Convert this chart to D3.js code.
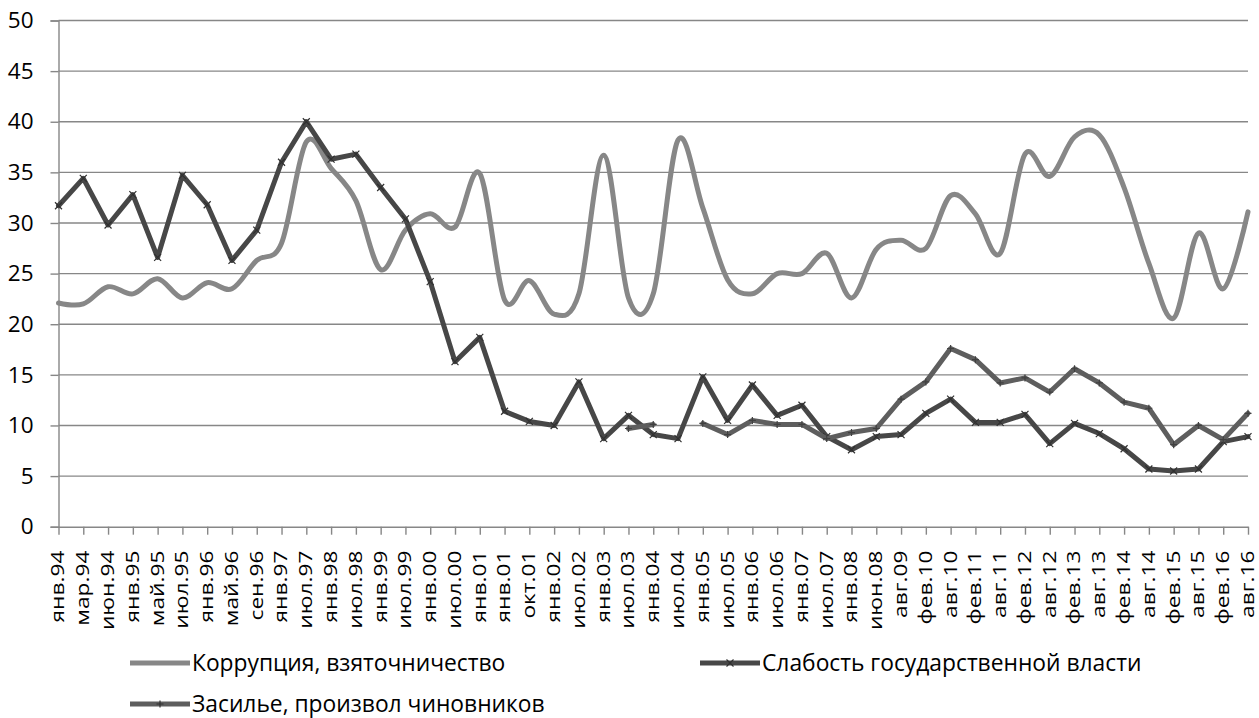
<!DOCTYPE html>
<html><head><meta charset="utf-8">
<script src="https://cdn.jsdelivr.net/npm/d3@7"></script>
<style>body{margin:0;background:#fff} svg{display:block}</style>
</head><body>
<script>
const categories = ["янв.94","мар.94","июн.94","янв.95","май.95","июл.95","янв.96","май.96","сен.96","янв.97","июл.97","янв.98","июл.98","янв.99","июл.99","янв.00","июл.00","янв.01","янв.01","окт.01","янв.02","июл.02","янв.03","июл.03","янв.04","июл.04","янв.05","июл.05","янв.06","июл.06","янв.07","июл.07","янв.08","июн.08","авг.09","фев.10","авг.10","фев.11","авг.11","фев.12","авг.12","фев.13","авг.13","фев.14","авг.14","фев.15","авг.15","фев.16","авг.16"];
const corruption = [22.1,22.0,23.7,23.0,24.5,22.6,24.1,23.5,26.3,28.0,38.0,35.4,32.2,25.4,29.3,30.9,29.6,34.9,22.4,24.3,21.0,23.0,36.7,22.6,23.0,38.2,31.5,24.4,23.0,25.0,25.0,27.0,22.6,27.4,28.3,27.5,32.7,30.9,27.0,36.8,34.6,38.5,38.7,33.5,26.0,20.6,29.0,23.5,31.1];
const weakness = [31.7,34.4,29.8,32.8,26.6,34.7,31.8,26.3,29.3,36.0,40.0,36.3,36.8,33.5,30.4,24.2,16.3,18.7,11.4,10.4,10.0,14.3,8.7,11.0,9.1,8.7,14.8,10.5,14.0,11.0,12.0,8.9,7.6,8.9,9.1,11.2,12.6,10.3,10.3,11.1,8.2,10.2,9.2,7.7,5.7,5.5,5.7,8.4,8.9];
const officials = [null,null,null,null,null,null,null,null,null,null,null,null,null,null,null,null,null,null,null,null,null,null,null,9.7,10.1,null,10.2,9.1,10.5,10.1,10.1,8.7,9.3,9.7,12.6,14.3,17.6,16.5,14.2,14.7,13.3,15.6,14.2,12.3,11.7,8.1,10.0,8.6,11.2];
const yTicks = [0,5,10,15,20,25,30,35,40,45,50];
const seriesNames = ["Коррупция, взяточничество","Слабость государственной власти","Засилье, произвол чиновников"];

const W = 1259, H = 718;
const FONT = "'Open Sans', 'Noto Sans', sans-serif";
const GRID = "#878787";
const C_CORR = "#878787", C_WEAK = "#474747", C_OFF = "#5e5e5e";

const svg = d3.select("body").append("svg").attr("width", W).attr("height", H);

const x = d3.scalePoint().domain(d3.range(categories.length)).range([58.5, 1248]);
const y = d3.scaleLinear().domain([0, 50]).range([526.7, 20.5]);

// gridlines
svg.append("g").selectAll("line").data(yTicks.filter(d => d > 0)).join("line")
  .attr("x1", 58.5).attr("x2", 1248).attr("y1", d => y(d)).attr("y2", d => y(d))
  .attr("stroke", GRID).attr("stroke-width", 1.4);

// y axis
const yAxis = svg.append("g").attr("transform", "translate(58.5,0)")
  .call(d3.axisLeft(y).tickValues(yTicks).tickSize(8).tickPadding(6));
yAxis.select(".domain").attr("stroke", GRID).attr("stroke-width", 1.4);
yAxis.selectAll(".tick line").attr("stroke", GRID).attr("stroke-width", 1.4);
yAxis.selectAll(".tick text").attr("font-family", FONT).attr("font-size", 22.5).attr("fill", "#000").attr("dx", -11);

// x axis
const xAxis = svg.append("g").attr("transform", "translate(0,526.7)")
  .call(d3.axisBottom(x).tickFormat(i => categories[i]).tickSize(8).tickSizeOuter(0));
xAxis.select(".domain").attr("stroke", GRID).attr("stroke-width", 1.4);
xAxis.selectAll(".tick line").attr("stroke", GRID).attr("stroke-width", 1.4);
xAxis.selectAll(".tick text")
  .attr("font-family", FONT).attr("font-size", 18).attr("fill", "#000")
  .attr("text-anchor", "end").attr("transform", "rotate(-90) scale(1.26,1)")
  .attr("x", -19).attr("y", 0).attr("dy", "0.3em");

// lines
const smooth = d3.line().defined(d => d.v != null).x(d => x(d.i)).y(d => y(d.v)).curve(d3.curveCatmullRom.alpha(0));
const straight = d3.line().defined(d => d.v != null).x(d => x(d.i)).y(d => y(d.v));
const pts = arr => arr.map((v, i) => ({i, v}));

svg.append("path").attr("d", smooth(pts(corruption))).attr("fill", "none")
  .attr("stroke", C_CORR).attr("stroke-width", 5).attr("stroke-linejoin", "round").attr("stroke-linecap", "round");

svg.append("path").attr("d", straight(pts(weakness))).attr("fill", "none")
  .attr("stroke", C_WEAK).attr("stroke-width", 5).attr("stroke-linejoin", "round").attr("stroke-linecap", "round");
svg.append("g").selectAll("path").data(pts(weakness)).join("path")
  .attr("transform", d => `translate(${x(d.i)},${y(d.v)})`)
  .attr("d", "M-3.5,-3.5L3.5,3.5M-3.5,3.5L3.5,-3.5").attr("stroke", "#303030").attr("stroke-width", 1.2);

svg.append("path").attr("d", straight(pts(officials))).attr("fill", "none")
  .attr("stroke", C_OFF).attr("stroke-width", 5).attr("stroke-linejoin", "round").attr("stroke-linecap", "round");
svg.append("g").selectAll("path").data(pts(officials).filter(d => d.v != null)).join("path")
  .attr("transform", d => `translate(${x(d.i)},${y(d.v)})`)
  .attr("d", "M-3.5,0L3.5,0M0,-3.5L0,3.5").attr("stroke", "#404040").attr("stroke-width", 1.2);

// legend
const legend = [
  {name: seriesNames[0], color: C_CORR, x: 130, y: 663, marker: null},
  {name: seriesNames[1], color: C_WEAK, x: 700, y: 663, marker: "M-3.5,-3.5L3.5,3.5M-3.5,3.5L3.5,-3.5"},
  {name: seriesNames[2], color: C_OFF, x: 130, y: 704, marker: "M-3.5,0L3.5,0M0,-3.5L0,3.5"}
];
const lg = svg.append("g").selectAll("g").data(legend).join("g").attr("transform", d => `translate(${d.x},${d.y})`);
lg.append("line").attr("x1", 0).attr("x2", 60).attr("stroke", d => d.color).attr("stroke-width", 5);
lg.filter(d => d.marker).append("path").attr("transform", "translate(30,0)").attr("d", d => d.marker).attr("stroke", "#303030").attr("stroke-width", 1.2);
lg.append("text").attr("x", 62).attr("dy", "0.35em").attr("font-family", FONT).attr("font-size", 22.8).attr("fill", "#000").text(d => d.name);
</script>
</body></html>
